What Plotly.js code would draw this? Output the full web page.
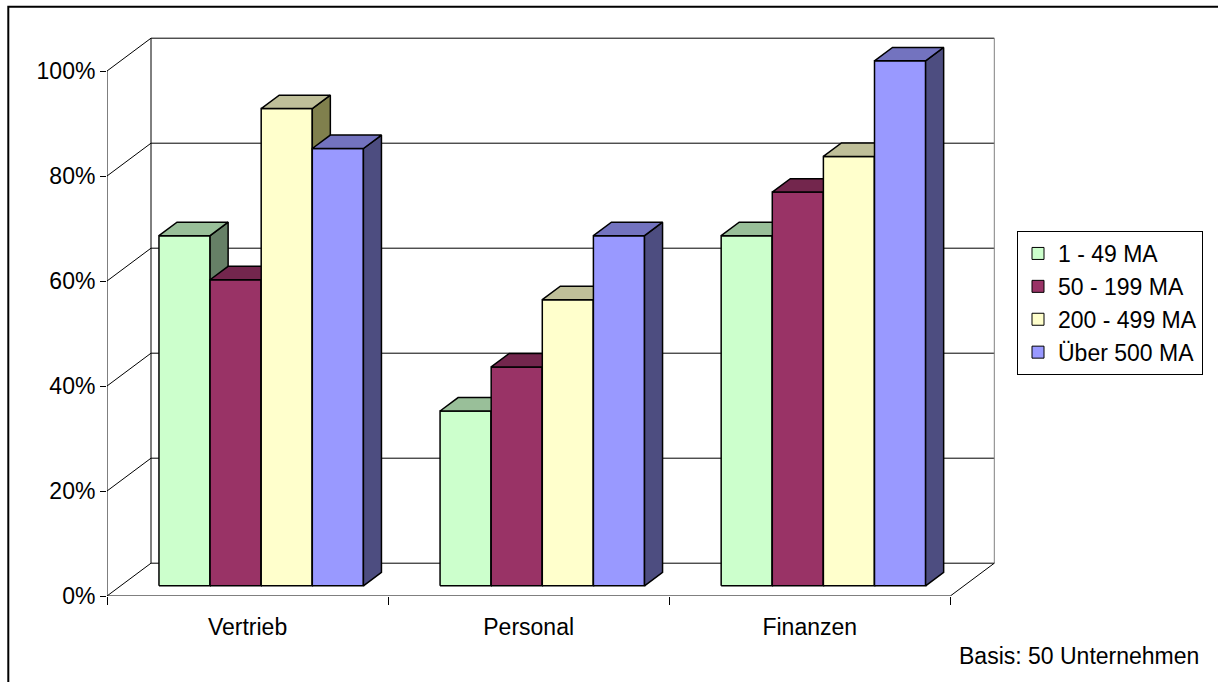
<!DOCTYPE html>
<html>
<head>
<meta charset="utf-8">
<script src="https://cdn.plot.ly/plotly-3.0.1.min.js"></script>
<style>
html,body{margin:0;padding:0;background:#fff;}
#chart{width:1218px;height:682px;}
</style>
</head>
<body>
<div id="chart"></div>
<script>
// ---- data ----
const categories = ['Vertrieb', 'Personal', 'Finanzen'];
const seriesNames = ['1 - 49 MA', '50 - 199 MA', '200 - 499 MA', 'Über 500 MA'];
const ma1to49 = [66.7, 33.3, 66.7];
const ma50to199 = [58.3, 41.7, 75.0];
const ma200to499 = [90.9, 54.5, 81.8];
const maOver500 = [83.3, 66.7, 100.0];
const yTickValues = [0, 20, 40, 60, 80, 100];
const yTickLabels = ['0%', '20%', '40%', '60%', '80%', '100%'];
const footnote = 'Basis: 50 Unternehmen';

// ---- styles ----
const frontColors = ['#CCFFCC', '#993366', '#FFFFCC', '#9999FF'];
const topColors   = ['#99BF99', '#73264D', '#BFBF99', '#7373BF'];
const sideColors  = ['#668066', '#4D1A33', '#80804D', '#4D4D80'];
const FONT = 'Arial, "Liberation Sans", sans-serif';
const FS = 23;

const series = [ma1to49, ma50to199, ma200to499, maOver500];

// layout geometry (pixels)
const W = 1218, H = 682;
const mL = 107, mR = 218, mT = 35, mB = 86;
const plotW = W - mL - mR, plotH = H - mT - mB;
const pxPerCat = 281.1, pxPerPct = 5.25;
const xMin = -0.5, xMax = xMin + plotW / pxPerCat;
const yMax = plotH / pxPerPct;

// pseudo-3D depth vector (data units)
const DX = 44 / pxPerCat, DY = 32.8 / pxPerPct;
const f0 = 0.31, f1 = 0.72;          // bar depth span (fraction of floor depth)
const bw = 1 / 5.5;                   // bar width (gap width 150%)
const nCat = categories.length;

const traces = [];
function poly(xs, ys, fill) {
  traces.push({
    type: 'scatter', mode: 'lines', x: xs.concat([xs[0]]), y: ys.concat([ys[0]]),
    fill: 'toself', fillcolor: fill, line: {color: '#000', width: 1.5},
    hoverinfo: 'skip', showlegend: false
  });
}

for (let i = 0; i < nCat; i++) {
  for (let j = 0; j < series.length; j++) {
    const v = series[j][i];
    const L = i - 0.5 + 0.75 * bw + j * bw, R = L + bw;
    const ox = f0 * DX, oy = f0 * DY, bx = f1 * DX, by = f1 * DY;
    // front face
    poly([L + ox, R + ox, R + ox, L + ox], [oy, oy, v + oy, v + oy], frontColors[j]);
    // side face
    poly([R + ox, R + bx, R + bx, R + ox], [oy, by, v + by, v + oy], sideColors[j]);
    // top face
    poly([L + ox, R + ox, R + bx, L + bx], [v + oy, v + oy, v + by, v + by], topColors[j]);
  }
}
// legend entries
for (let j = 0; j < series.length; j++) {
  traces.push({
    type: 'bar', x: [null], y: [null], name: seriesNames[j],
    marker: {color: frontColors[j], line: {color: '#000', width: 1}},
    hoverinfo: 'skip', showlegend: true
  });
}
// carrier for boundary-tick axis
traces.push({type: 'scatter', mode: 'markers', x: [null], y: [null], xaxis: 'x2', showlegend: false, hoverinfo: 'skip'});

// frame (walls, floor, gridlines)
const shapes = [];
function seg(x0, y0, x1, y1, color) {
  shapes.push({type: 'line', xref: 'x', yref: 'y', x0, y0, x1, y1, layer: 'below',
               line: {color: color || '#000', width: 1}});
}
const xL = -0.5, xR = nCat - 0.5;
yTickValues.forEach(v => {
  seg(xL + DX, v + DY, xR + DX, v + DY, '#000');   // back wall gridline
  seg(xL, v, xL + DX, v + DY, '#000');              // side wall gridline
});
seg(xL + DX, DY, xL + DX, 100 + DY, '#000');        // back-left edge
seg(xR + DX, DY, xR + DX, 100 + DY, '#808080');     // back-right edge
seg(xL, 0, xL, 100, '#000');                         // value axis
seg(xL, 0, xR, 0, '#000');                           // floor front edge
seg(xR, 0, xR + DX, DY, '#000');                     // floor right edge
// outer chart border
shapes.push({type: 'rect', xref: 'paper', yref: 'paper',
  x0: (8.3 - mL) / plotW, x1: 1.4, y0: -0.4, y1: (H - mB - 6.7) / plotH,
  line: {color: '#000', width: 2}, fillcolor: 'rgba(0,0,0,0)'});

const layout = {
  width: W, height: H,
  margin: {l: mL, r: mR, t: mT, b: mB, pad: 0},
  paper_bgcolor: '#fff', plot_bgcolor: '#fff',
  font: {family: FONT, size: FS, color: '#000'},
  showlegend: true,
  xaxis: {
    type: 'linear', range: [xMin, xMax], fixedrange: true,
    tickmode: 'array', tickvals: categories.map((c, i) => i), ticktext: categories,
    ticks: 'outside', ticklen: 10, tickcolor: 'rgba(0,0,0,0)',
    showgrid: false, zeroline: false, showline: false,
    tickfont: {family: FONT, size: FS, color: '#000'}
  },
  xaxis2: {
    type: 'linear', range: [xMin, xMax], overlaying: 'x', anchor: 'y', side: 'bottom',
    tickmode: 'array', tickvals: categories.map((c, i) => i - 0.5).concat([nCat - 0.5]),
    ticks: 'outside', ticklen: 8, tickcolor: '#000', tickwidth: 1,
    showticklabels: false, showgrid: false, zeroline: false, showline: false, fixedrange: true
  },
  yaxis: {
    type: 'linear', range: [0, yMax], fixedrange: true,
    tickmode: 'array', tickvals: yTickValues, ticktext: yTickLabels,
    ticks: 'outside', ticklen: 6, tickcolor: '#000', tickwidth: 1,
    showgrid: false, zeroline: false, showline: false,
    tickfont: {family: FONT, size: FS, color: '#000'}
  },
  legend: {
    x: (1017 - mL) / plotW, y: (H - mB - 231) / plotH, xanchor: 'left', yanchor: 'top',
    bordercolor: '#000', borderwidth: 1, bgcolor: '#fff',
    font: {family: FONT, size: FS, color: '#000'}, itemwidth: 30, traceorder: 'normal'
  },
  shapes: shapes,
  annotations: [{
    xref: 'paper', yref: 'paper', x: (1201 - mL) / plotW, y: (H - mB - 656) / plotH,
    xanchor: 'right', yanchor: 'middle', showarrow: false, text: footnote,
    font: {family: FONT, size: FS, color: '#000'}
  }]
};

Plotly.newPlot('chart', traces, layout, {displayModeBar: false, staticPlot: true});
</script>
</body>
</html>
